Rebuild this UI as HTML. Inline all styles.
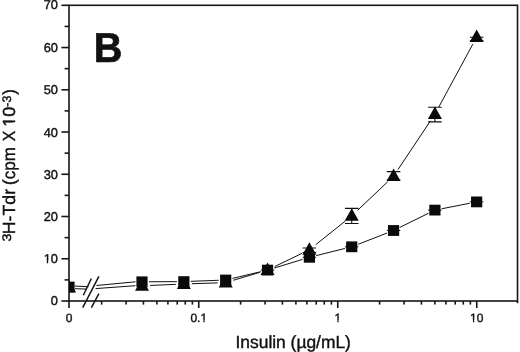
<!DOCTYPE html>
<html lang="en"><head><meta charset="utf-8"><title>Figure B</title>
<style>html,body{margin:0;padding:0;background:#fff}svg{display:block}</style></head>
<body>
<svg width="520" height="352" viewBox="0 0 520 352">
<rect width="520" height="352" fill="#fff"/>
<g stroke="#161616" stroke-width="1.6" fill="none" stroke-linecap="butt">
<rect x="69.0" y="5.3" width="448.5" height="295.7"/>
<line x1="61.4" y1="301.00" x2="69.0" y2="301.00"/>
<line x1="61.4" y1="258.76" x2="69.0" y2="258.76"/>
<line x1="61.4" y1="216.51" x2="69.0" y2="216.51"/>
<line x1="61.4" y1="174.27" x2="69.0" y2="174.27"/>
<line x1="61.4" y1="132.03" x2="69.0" y2="132.03"/>
<line x1="61.4" y1="89.79" x2="69.0" y2="89.79"/>
<line x1="61.4" y1="47.54" x2="69.0" y2="47.54"/>
<line x1="61.4" y1="5.30" x2="69.0" y2="5.30"/>
<line x1="64.6" y1="279.88" x2="69.0" y2="279.88"/>
<line x1="64.6" y1="237.64" x2="69.0" y2="237.64"/>
<line x1="64.6" y1="195.39" x2="69.0" y2="195.39"/>
<line x1="64.6" y1="153.15" x2="69.0" y2="153.15"/>
<line x1="64.6" y1="110.91" x2="69.0" y2="110.91"/>
<line x1="64.6" y1="68.66" x2="69.0" y2="68.66"/>
<line x1="64.6" y1="26.42" x2="69.0" y2="26.42"/>
<line x1="69.0" y1="301.0" x2="69.0" y2="308.0"/>
<line x1="517.5" y1="301.0" x2="517.5" y2="303.2"/>
<line x1="101.59" y1="301.0" x2="101.59" y2="304.6"/>
<line x1="126.07" y1="301.0" x2="126.07" y2="304.6"/>
<line x1="143.44" y1="301.0" x2="143.44" y2="304.6"/>
<line x1="156.91" y1="301.0" x2="156.91" y2="304.6"/>
<line x1="167.91" y1="301.0" x2="167.91" y2="304.6"/>
<line x1="177.22" y1="301.0" x2="177.22" y2="304.6"/>
<line x1="185.28" y1="301.0" x2="185.28" y2="304.6"/>
<line x1="192.39" y1="301.0" x2="192.39" y2="304.6"/>
<line x1="198.75" y1="301.0" x2="198.75" y2="308.0"/>
<line x1="240.59" y1="301.0" x2="240.59" y2="304.6"/>
<line x1="265.07" y1="301.0" x2="265.07" y2="304.6"/>
<line x1="282.44" y1="301.0" x2="282.44" y2="304.6"/>
<line x1="295.91" y1="301.0" x2="295.91" y2="304.6"/>
<line x1="306.91" y1="301.0" x2="306.91" y2="304.6"/>
<line x1="316.22" y1="301.0" x2="316.22" y2="304.6"/>
<line x1="324.28" y1="301.0" x2="324.28" y2="304.6"/>
<line x1="331.39" y1="301.0" x2="331.39" y2="304.6"/>
<line x1="337.75" y1="301.0" x2="337.75" y2="308.0"/>
<line x1="379.59" y1="301.0" x2="379.59" y2="304.6"/>
<line x1="404.07" y1="301.0" x2="404.07" y2="304.6"/>
<line x1="421.44" y1="301.0" x2="421.44" y2="304.6"/>
<line x1="434.91" y1="301.0" x2="434.91" y2="304.6"/>
<line x1="445.91" y1="301.0" x2="445.91" y2="304.6"/>
<line x1="455.22" y1="301.0" x2="455.22" y2="304.6"/>
<line x1="463.28" y1="301.0" x2="463.28" y2="304.6"/>
<line x1="470.39" y1="301.0" x2="470.39" y2="304.6"/>
<line x1="476.75" y1="301.0" x2="476.75" y2="308.0"/>
</g>
<path fill="none" stroke="#111" stroke-width="1.0" d="M149.00 281.77L176.85 281.63M190.84 281.33L218.70 280.27M232.50 278.39L260.72 271.71M274.23 268.05L302.68 259.35M316.17 255.62L344.93 248.48M358.24 244.26L387.04 233.04M399.84 227.40L428.63 213.20M441.78 208.75L469.78 203.25"/>
<path fill="none" stroke="#111" stroke-width="1.0" d="M150.00 285.46L175.86 284.34M191.84 283.73L217.70 282.87M233.35 280.29L259.87 272.31M274.74 266.52L302.17 253.28M315.62 244.80L345.48 220.90M357.52 210.39L387.76 181.71M398.00 169.54L430.47 120.86M438.72 107.16L472.84 44.14"/>
<path fill="none" stroke="#111" stroke-width="1.0" d="M75 286.1L88.5 286.7M75 288.7L87 289.1M96.5 285.5L135.5 281.8M95.5 288.6L135.5 285.7"/>
<g stroke="#111" stroke-width="1.45" fill="none">
<line x1="83.3" y1="295.2" x2="91.4" y2="278.5"/>
<line x1="82.7" y1="307.6" x2="98.9" y2="276.3"/>
<line x1="91.4" y1="307.6" x2="98.9" y2="293.6"/>
</g>
<g stroke="#111" stroke-width="1.1" fill="none">
<path d="M344.92 208.4H358.52M344.92 223.5H358.52M351.72 208.4V223.5"/>
<path d="M428.11 107.2H441.71M428.11 121.9H441.71M434.91 107.2V121.9"/>
<path d="M386.76 171.6H400.36M386.76 180.0H400.36M393.56 171.6V180.0"/>
<path d="M469.85 37.2H483.45M469.85 40.8H483.45M476.65 37.2V40.8"/>
<path d="M302.58 248.0H316.18M302.58 252.5H316.18M309.38 248.0V252.5"/>
</g>
<path d="M260.83 270.10H274.23" stroke="#111" stroke-width="1" fill="none"/>
<path d="M302.68 257.30H316.08" stroke="#111" stroke-width="1" fill="none"/>
<path d="M345.02 246.80H358.42" stroke="#111" stroke-width="1" fill="none"/>
<path d="M386.86 230.50H400.26" stroke="#111" stroke-width="1" fill="none"/>
<path d="M428.21 210.10H441.61" stroke="#111" stroke-width="1" fill="none"/>
<path d="M469.95 201.90H483.35" stroke="#111" stroke-width="1" fill="none"/>
<clipPath id="c"><rect x="69.0" y="0" width="520" height="352"/></clipPath>
<g fill="#0a0a0a" clip-path="url(#c)">
<polygon points="69.00,280.00 76.00,292.50 62.00,292.50"/>
<polygon points="142.00,278.20 149.00,290.70 135.00,290.70"/>
<polygon points="183.85,276.40 190.85,288.90 176.85,288.90"/>
<polygon points="225.69,275.00 232.69,287.50 218.69,287.50"/>
<polygon points="267.53,262.40 274.53,274.90 260.53,274.90"/>
<polygon points="309.38,242.20 316.38,254.70 302.38,254.70"/>
<polygon points="351.72,208.30 358.72,220.80 344.72,220.80"/>
<polygon points="393.56,168.60 400.56,181.10 386.56,181.10"/>
<polygon points="434.91,106.60 441.91,119.10 427.91,119.10"/>
<polygon points="476.65,29.50 483.65,42.00 469.65,42.00"/>
<rect x="63.40" y="281.60" width="11.2" height="10.8"/>
<rect x="136.40" y="276.40" width="11.2" height="10.8"/>
<rect x="178.25" y="276.20" width="11.2" height="10.8"/>
<rect x="220.09" y="274.60" width="11.2" height="10.8"/>
<rect x="261.93" y="264.70" width="11.2" height="10.8"/>
<rect x="303.78" y="251.90" width="11.2" height="10.8"/>
<rect x="346.12" y="241.40" width="11.2" height="10.8"/>
<rect x="387.96" y="225.10" width="11.2" height="10.8"/>
<rect x="429.31" y="204.70" width="11.2" height="10.8"/>
<rect x="471.05" y="196.50" width="11.2" height="10.8"/>
</g>
<g font-family="'Liberation Sans', Arial, Helvetica, sans-serif" fill="#111" text-rendering="geometricPrecision">
<text x="57.9" y="304.95" font-size="12.8" text-anchor="end" stroke="#111" stroke-width="0.4">0</text>
<text x="57.9" y="263.31" font-size="12.8" text-anchor="end" stroke="#111" stroke-width="0.4">10</text>
<text x="57.9" y="221.06" font-size="12.8" text-anchor="end" stroke="#111" stroke-width="0.4">20</text>
<text x="57.9" y="178.82" font-size="12.8" text-anchor="end" stroke="#111" stroke-width="0.4">30</text>
<text x="57.9" y="136.58" font-size="12.8" text-anchor="end" stroke="#111" stroke-width="0.4">40</text>
<text x="57.9" y="94.34" font-size="12.8" text-anchor="end" stroke="#111" stroke-width="0.4">50</text>
<text x="57.9" y="52.09" font-size="12.8" text-anchor="end" stroke="#111" stroke-width="0.4">60</text>
<text x="57.9" y="9.25" font-size="12.8" text-anchor="end" stroke="#111" stroke-width="0.4">70</text>
<text x="69.00" y="321.6" font-size="12.0" text-anchor="middle" stroke="#111" stroke-width="0.4">0</text>
<text x="198.75" y="321.6" font-size="12.0" text-anchor="middle" stroke="#111" stroke-width="0.4">0.1</text>
<text x="337.75" y="321.6" font-size="12.0" text-anchor="middle" stroke="#111" stroke-width="0.4">1</text>
<text x="476.75" y="321.6" font-size="12.0" text-anchor="middle" stroke="#111" stroke-width="0.4">10</text>
<rect x="43.64" y="261.04" width="3.09" height="3.16" fill="#fff"/><rect x="48.16" y="261.04" width="2.99" height="3.16" fill="#fff"/>
<rect x="200.33" y="320.10" width="2.95" height="3.10" fill="#fff"/><rect x="204.65" y="320.10" width="2.86" height="3.10" fill="#fff"/>
<rect x="334.33" y="320.10" width="2.95" height="3.10" fill="#fff"/><rect x="338.64" y="320.10" width="2.86" height="3.10" fill="#fff"/>
<rect x="469.99" y="320.10" width="2.95" height="3.10" fill="#fff"/><rect x="474.30" y="320.10" width="2.86" height="3.10" fill="#fff"/>
<text x="235.5" y="347.9" font-size="17.5" textLength="115.4" lengthAdjust="spacingAndGlyphs" stroke="#111" stroke-width="0.4">Insulin (µg/mL)</text>
<g transform="translate(10.7 241.52) rotate(-90) scale(1.1561 1)"><text font-size="12.4" stroke="#111" stroke-width="0.4">3</text></g>
<g transform="translate(15.0 234.22) rotate(-90) scale(1.0132 1)"><text font-size="17.5" stroke="#111" stroke-width="0.4">H-Tdr</text></g>
<g transform="translate(15.0 184.91) rotate(-90) scale(0.9691 1)"><text font-size="17.5" stroke="#111" stroke-width="0.4">(cpm</text></g>
<g transform="translate(15.0 141.31) rotate(-90) scale(0.9011 1)"><text font-size="17.5" stroke="#111" stroke-width="0.4">X</text></g>
<g transform="translate(15.0 126.69) rotate(-90) scale(1.0308 1)"><text font-size="17.5" stroke="#111" stroke-width="0.4">10</text><rect x="0.33" y="-2.31" width="3.92" height="3.51" fill="#fff"/><rect x="6.10" y="-2.31" width="3.78" height="3.51" fill="#fff"/></g>
<g transform="translate(10.7 106.7) rotate(-90) scale(0.9881 1)"><text font-size="12.4" stroke="#111" stroke-width="0.4">-3</text></g>
<g transform="translate(15.0 94.86) rotate(-90) scale(0.9577 1)"><text font-size="17.5" stroke="#111" stroke-width="0.4">)</text></g>
<text transform="translate(93.7 61.8) scale(0.942 0.995)" font-size="42" font-weight="bold" stroke="#111" stroke-width="0.7" stroke-linejoin="miter">B</text>
</g>
</svg>
</body></html>
